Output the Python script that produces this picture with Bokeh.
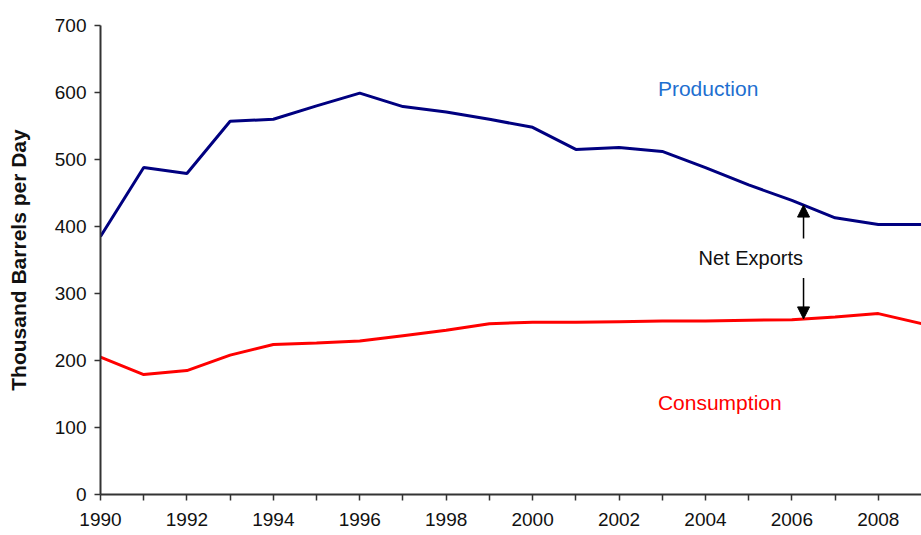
import numpy as np
from bokeh.plotting import figure
from bokeh.models import Range1d, FixedTicker, Arrow, NormalHead, Label
from bokeh.embed import file_html
from bokeh.resources import INLINE

years = list(range(1990, 2010))
production = [385, 488, 479, 557, 560, 580, 599, 579, 571, 560, 548, 515, 518, 512,
              488, 462, 439, 413, 403, 403]
consumption = [205, 179, 185, 208, 224, 226, 229, 237, 245, 255, 257, 257, 258, 259,
               259, 260, 261, 265, 270, 255]
x_ticks = list(range(1990, 2009))
x_tick_labels = {y: (str(y) if y % 2 == 0 else "") for y in x_ticks}
y_ticks = [0, 100, 200, 300, 400, 500, 600, 700]

FONT = "Liberation Sans"

p = figure(width=921, height=535, output_backend="svg", toolbar_location=None,
           x_range=Range1d(1990, 2009), y_range=Range1d(0, 700),
           min_border_left=100, min_border_top=25, min_border_right=0, min_border_bottom=41)
p.outline_line_color = None
p.xgrid.visible = False
p.ygrid.visible = False
p.background_fill_color = "white"
p.border_fill_color = "white"

p.line(years, production, line_color="#000080", line_width=3)
p.line(years, consumption, line_color="#FF0000", line_width=3)

for ax in (p.xaxis[0], p.yaxis[0]):
    ax.axis_line_color = "#333333"
    ax.axis_line_width = 2
    ax.major_tick_line_color = "#333333"
    ax.major_tick_line_width = 1.5
    ax.major_tick_out = 6
    ax.major_tick_in = 0
    ax.minor_tick_line_color = None
    ax.major_label_text_font = FONT
    ax.major_label_text_font_size = "19px"
    ax.major_label_text_color = "#111111"

p.xaxis.ticker = FixedTicker(ticks=x_ticks)
p.xaxis.major_label_overrides = x_tick_labels
p.xaxis.major_label_standoff = 12
p.yaxis.ticker = FixedTicker(ticks=y_ticks)
p.yaxis.major_label_standoff = 8

p.yaxis.axis_label = "Thousand Barrels per Day"
p.yaxis.axis_label_text_font = FONT
p.yaxis.axis_label_text_font_style = "bold"
p.yaxis.axis_label_text_font_size = "21px"
p.yaxis.axis_label_text_color = "#111111"
p.yaxis.axis_label_standoff = 22

p.add_layout(Label(x=2002.9, y=606, text="Production", text_font=FONT,
                   text_font_size="21px", text_color="#1E6FD0",
                   text_baseline="middle", text_align="left"))
p.add_layout(Label(x=2002.9, y=137, text="Consumption", text_font=FONT,
                   text_font_size="21px", text_color="#FF0000",
                   text_baseline="middle", text_align="left"))
p.add_layout(Label(x=2003.84, y=353, text="Net Exports", text_font=FONT,
                   text_font_size="20px", text_color="#111111",
                   text_baseline="middle", text_align="left"))

ax_x = 2006.27
prod_at = float(np.interp(ax_x, years, production))
cons_at = float(np.interp(ax_x, years, consumption))
p.add_layout(Arrow(end=NormalHead(size=12, fill_color="black", line_color="black"),
                   x_start=ax_x, y_start=382, x_end=ax_x, y_end=prod_at,
                   line_color="black", line_width=1.5))
p.add_layout(Arrow(end=NormalHead(size=12, fill_color="black", line_color="black"),
                   x_start=ax_x, y_start=323, x_end=ax_x, y_end=cons_at,
                   line_color="black", line_width=1.5))

open("out.html", "w").write(file_html(p, INLINE))
